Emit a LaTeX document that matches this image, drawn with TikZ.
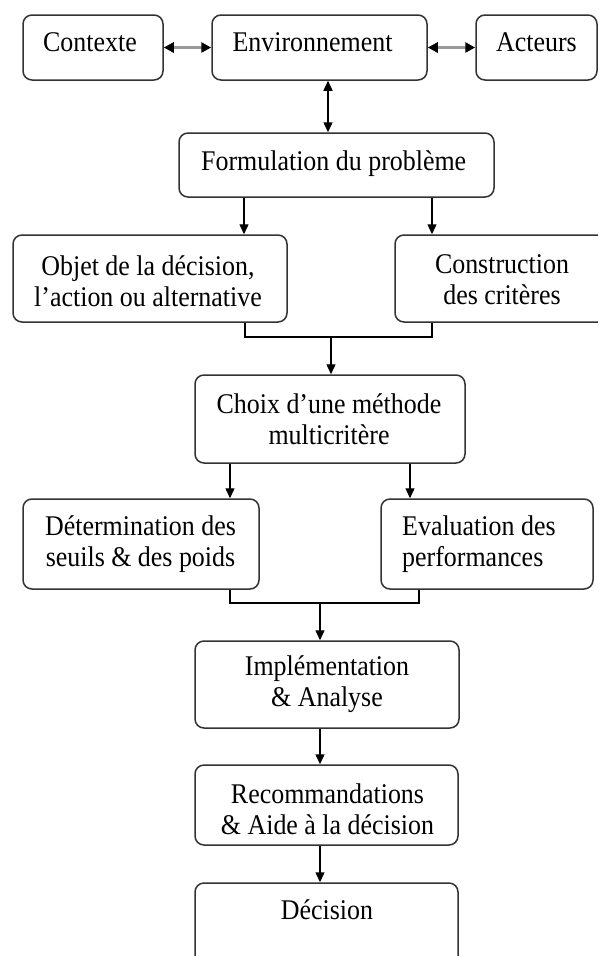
\documentclass[tikz,border=0pt]{standalone}
\usepackage{fontspec}
\setmainfont{Liberation Serif}[FakeStretch=0.91]
\usetikzlibrary{arrows.meta}
\begin{document}
\begin{tikzpicture}[x=1pt,y=-1pt,
  box/.style={draw=black!80, line width=1.5pt, rounded corners=9pt, inner sep=0pt, fill=white},
  txt/.style={inner sep=0pt, align=center, font=\fontsize{28.5}{31}\selectfont},
  conn/.style={line width=1.4pt, black},
  arr/.style={conn, -{Triangle[length=10pt,width=9pt]}},
  biarr/.style={conn, {Triangle[length=10pt,width=9pt]}-{Triangle[length=10pt,width=9pt]}},
  grayarr/.style={line width=2.8pt, black!40, {Triangle[length=10pt,width=10pt,fill=black,color=black]}-{Triangle[length=10pt,width=10pt,fill=black,color=black]}}
]
\useasboundingbox (0,0) rectangle (598,956);
\begin{scope}
\clip (0,0) rectangle (598,956);
% boxes
\node[box, minimum width=140pt, minimum height=65pt] (ctx) at (93,47.5) {};
\node[box, minimum width=215pt, minimum height=65pt] (env) at (319.5,47.5) {};
\node[box, minimum width=121pt, minimum height=65pt] (act) at (536.5,47.5) {};
\node[box, minimum width=315pt, minimum height=64pt] (form) at (336.5,165) {};
\node[box, minimum width=274pt, minimum height=87pt] (obj) at (150,278.5) {};
\node[box, minimum width=215pt, minimum height=87pt] (cons) at (502.5,278.5) {};
\node[box, minimum width=270pt, minimum height=88pt] (choix) at (330,419) {};
\node[box, minimum width=236pt, minimum height=90pt] (det) at (141,544) {};
\node[box, minimum width=212pt, minimum height=90pt] (eval) at (487,544) {};
\node[box, minimum width=264pt, minimum height=87pt] (impl) at (327,684.5) {};
\node[box, minimum width=263pt, minimum height=80pt] (rec) at (326.5,805) {};
\node[box, minimum width=263pt, minimum height=92pt] (dec) at (326.5,929) {};
% texts
\node[txt] (tctx) at (90,42) {Contexte};
\node[txt] (tenv) at (312.5,42) {Environnement};
\node[txt] (tact) at (536.5,42) {Acteurs};
\node[txt] (tform) at (333.7,164) {Formulation du problème};
\node[txt] (tobj) at (148,281) {Objet de la décision,\\l’action ou alternative};
\node[txt] (tcons) at (502,279.5) {Construction\\des critères};
\node[txt] (tchoix) at (329,419.5) {Choix d’une méthode\\multicritère};
\node[txt] (tdet) at (140.5,544.5) {Détermination des\\seuils \& des poids};
\node[txt, align=left, anchor=west] (teval) at (402,544.5) {Evaluation des\\performances};
\node[txt] (timpl) at (327,684.5) {Implémentation\\\& Analyse};
\node[txt] (trec) at (327.5,809.5) {Recommandations\\\& Aide à la décision};
\node[txt] (tdec) at (327,910) {Décision};
% connectors
\draw[grayarr] (ctx.east) -- (env.west);
\draw[grayarr] (env.east) -- (act.west);
\draw[biarr] (env.south -| 328,0) -- (form.north -| 328,0);
\draw[arr] (form.south -| 244,0) -- (obj.north -| 244,0);
\draw[arr] (form.south -| 432,0) -- (cons.north -| 432,0);
\coordinate (j1) at (331,337);
\draw[conn] (obj.south -| 245,0) |- (j1) -| (cons.south -| 432,0);
\draw[arr] (j1) -- (choix.north -| j1);
\draw[arr] (choix.south -| 230,0) -- (det.north -| 230,0);
\draw[arr] (choix.south -| 410,0) -- (eval.north -| 410,0);
\coordinate (j2) at (320,603);
\draw[conn] (det.south -| 230,0) |- (j2) -| (eval.south -| 419,0);
\draw[arr] (j2) -- (impl.north -| j2);
\draw[arr] (impl.south -| 320,0) -- (rec.north -| 320,0);
\draw[arr] (rec.south -| 320,0) -- (dec.north -| 320,0);
\end{scope}
\end{tikzpicture}
\end{document}
